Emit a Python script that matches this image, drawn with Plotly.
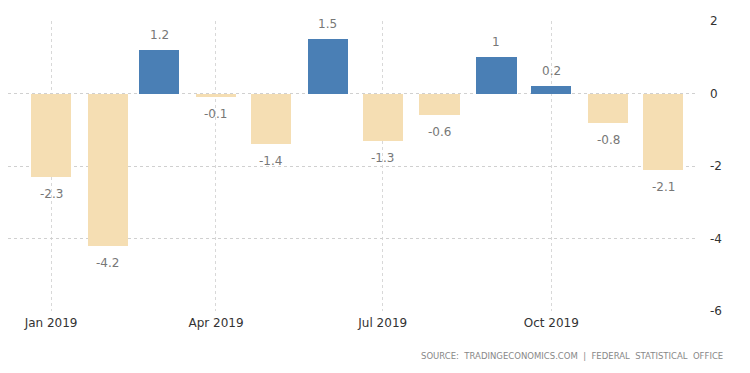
import plotly.graph_objects as go

months = ["2019-01-01", "2019-02-01", "2019-03-01", "2019-04-01", "2019-05-01", "2019-06-01",
          "2019-07-01", "2019-08-01", "2019-09-01", "2019-10-01", "2019-11-01", "2019-12-01"]
values = [-2.3, -4.2, 1.2, -0.1, -1.4, 1.5, -1.3, -0.6, 1, 0.2, -0.8, -2.1]
labels = ["-2.3", "-4.2", "1.2", "-0.1", "-1.4", "1.5", "-1.3", "-0.6", "1", "0.2", "-0.8", "-2.1"]
y_ticks = [2, 0, -2, -4, -6]

POS = "#4A7FB5"
NEG = "#F5DEB3"
colors = [POS if v >= 0 else NEG for v in values]

DAY_MS = 86400000

fig = go.Figure()
fig.add_trace(go.Bar(
    x=months, y=values, width=[22 * DAY_MS] * len(values),
    marker=dict(color=colors, line=dict(width=0)),
    hoverinfo="skip",
))

annotations = []
for m, v, t in zip(months, values, labels):
    annotations.append(dict(
        x=m, y=v, xref="x", yref="y", text=t, showarrow=False,
        yanchor="bottom" if v >= 0 else "top", yshift=6 if v >= 0 else -8,
        font=dict(family="DejaVu Sans", size=12, color="#777777"),
    ))

annotations.append(dict(
    text="SOURCE:  TRADINGECONOMICS.COM  |  FEDERAL  STATISTICAL  OFFICE",
    xref="paper", yref="paper", x=717 / 689, y=-(348 - 303) / 290, xanchor="right", yanchor="middle",
    showarrow=False, font=dict(family="DejaVu Sans", size=8.5, color="#888888"),
))

fig.update_layout(
    width=742, height=365,
    margin=dict(l=0, r=53, t=13, b=62, autoexpand=False),
    paper_bgcolor="white", plot_bgcolor="white",
    showlegend=False, bargap=0,
    font=dict(family="DejaVu Sans", size=12, color="#333333"),
    xaxis=dict(
        type="date", range=["2018-12-08 12:00", "2019-12-19 12:00"], automargin=False,
        tickformat="%b %Y", dtick="M3", tick0="2019-01-01",
        showgrid=True, gridcolor="#D8D8D8", griddash="dot", gridwidth=1,
        showline=False, zeroline=False, ticks="", ticklabelstandoff=3,
        tickfont=dict(family="DejaVu Sans", size=12, color="#333333"),
    ),
    yaxis=dict(
        range=[-6, 2], side="right", tickvals=y_ticks, ticktext=[str(t) for t in y_ticks],
        automargin=False,
        showgrid=True, gridcolor="#D0D0D0", griddash="dot", gridwidth=1,
        zeroline=False, showline=False, ticks="",
        tickfont=dict(family="DejaVu Sans", size=12, color="#333333"),
        ticklabelstandoff=12,
    ),
    annotations=annotations,
)

fig.write_html("out.html")
